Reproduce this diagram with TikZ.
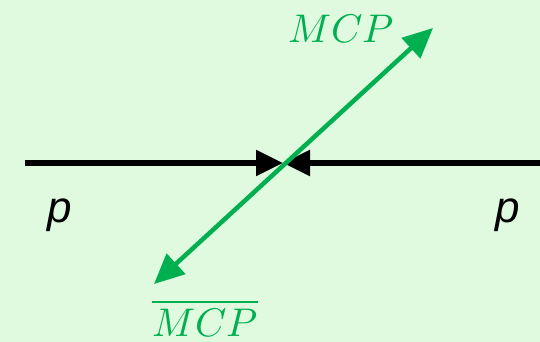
\documentclass[tikz,border=0pt]{standalone}
\usepackage{fontspec}
\usepackage{unicode-math}
\newfontfamily\psans{Liberation Sans}
\usetikzlibrary{arrows.meta}
\definecolor{bgg}{RGB}{223,250,223}
\definecolor{mcpg}{RGB}{0,176,80}
\begin{document}
\begin{tikzpicture}[x=1pt,y=-1pt,
  beam/.style={line width=5.5pt,black,-{Triangle[length=27pt,width=25pt]}},
  mcpline/.style={line width=4.5pt,mcpg,{Triangle[length=30pt,width=27pt]}-{Triangle[length=30pt,width=27pt]}},
  plab/.style={font=\psans\itshape\fontsize{44}{44}\selectfont,anchor=base,inner sep=0pt},
  mlab/.style={text=mcpg,font=\fontsize{40}{40}\selectfont,anchor=base,inner sep=0pt}]
\fill[bgg] (0,0) rectangle (540,342);
\useasboundingbox (0,0) rectangle (540,342);
\coordinate (c) at (283,163);
\coordinate (L) at (25,163);
\coordinate (R) at (540,163);
\coordinate (T) at (433,28);
\coordinate (B) at (154,284);
\draw[beam] (L) -- (c);
\draw[beam] (R) -- (c);
\draw[mcpline] (B) -- (T);
\node[mlab] (m1) at (341,43) {$MCP$};
\node[mlab] (m2) at (205,336) {$\overline{MCP}$};
\node[plab] (p1) at (60,222) {p};
\node[plab] (p2) at (508,222) {p};
\end{tikzpicture}
\end{document}
